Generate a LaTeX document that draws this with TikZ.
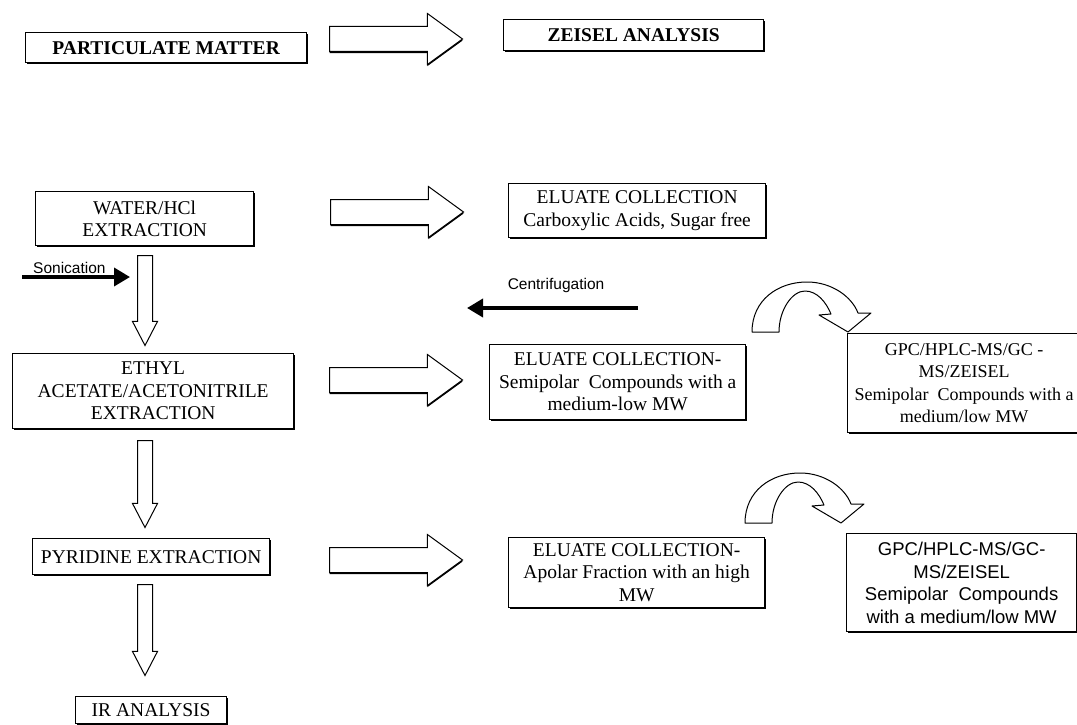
\documentclass[tikz,border=0pt]{standalone}
\usepackage{fontspec}
\setmainfont{Liberation Serif}
\newfontfamily\arialfont{Liberation Sans}
\usetikzlibrary{shapes.arrows,shadows,arrows.meta}

\begin{document}
\begin{tikzpicture}[x=1pt,y=-1pt,
		box/.style={draw,line width=1.3pt,fill=white,inner sep=2pt,anchor=north west,align=center,
			font=\fontsize{19.5}{22.5}\selectfont,
			drop shadow={shadow xshift=1.2pt,shadow yshift=-1.6pt,fill=black,opacity=1}},
		bbox/.style={box,font=\fontsize{19.5}{22.5}\selectfont\bfseries},
		sbox/.style={box,font=\arialfont\fontsize{18.5}{22.5}\selectfont},
		harr/.style={single arrow,draw,fill=white,line width=1pt,anchor=tail,
			minimum height=133pt,minimum width=50pt,inner xsep=0pt,inner ysep=12pt,
			single arrow head extend=13pt,single arrow tip angle=72,
			drop shadow={shadow xshift=0pt,shadow yshift=-1.6pt,fill=black,opacity=1}},
		varr/.style={single arrow,draw,fill=white,line width=1pt,anchor=tail,rotate=-90,
			minimum width=24pt,inner xsep=0pt,inner ysep=7pt,
			single arrow head extend=5pt,single arrow tip angle=55},
		push/.style={line width=3.5pt,-{Triangle[length=16pt,width=18pt]}},
		lbl/.style={font=\arialfont\fontsize{15.5}{18}\selectfont,inner sep=0pt},
		curved/.style={draw,fill=white,line width=1pt,line join=round}]
	\fill[white] (0,0) rectangle (1077,725);
	\useasboundingbox (0,0) rectangle (1077,725);
	\clip (0,0) rectangle (1077,725);
	\node[bbox,minimum width=281pt,minimum height=30pt] (pm) at (25,32) {PARTICULATE MATTER};
	\node[bbox,minimum width=260pt,minimum height=31pt] (zeisel) at (503,19) {ZEISEL ANALYSIS};
	\node[box,minimum width=218pt,minimum height=54pt] (water) at (35,191) {WATER/HCl\\EXTRACTION};
	\node[box,minimum width=257pt,minimum height=54pt] (elu1) at (508,183) {ELUATE COLLECTION\\Carboxylic Acids, Sugar free};
	\node[box,minimum width=281pt,minimum height=75pt] (ethyl) at (12,353) {ETHYL\\ACETATE/ACETONITRILE\\EXTRACTION};
	\node[box,minimum width=256pt,minimum height=75pt] (elu2) at (489,344) {ELUATE COLLECTION-\\Semipolar\ \ Compounds with a\\medium-low MW};
	\node[box,font=\fontsize{18}{22.5}\selectfont,minimum width=233pt,minimum height=99pt] (gpc1) at (847,333) {GPC/HPLC-MS/GC -\\MS/ZEISEL\\Semipolar\ \ Compounds with a\\medium/low MW};
	\node[box,minimum width=237pt,minimum height=36pt] (pyr) at (32,538) {PYRIDINE EXTRACTION};
	\node[box,minimum width=256pt,minimum height=70pt] (elu3) at (508,537) {ELUATE COLLECTION-\\Apolar Fraction with an high\\MW};
	\node[sbox,minimum width=230pt,minimum height=98pt] (gpc2) at (846,533) {GPC/HPLC-MS/GC-\\MS/ZEISEL\\Semipolar\ \ Compounds\\with a medium/low MW};
	\node[box,minimum width=151pt,minimum height=27pt] (ir) at (75,696) {IR ANALYSIS};

	\node[harr] (a1) at (329,39) {};
	\node[harr] (a2) at (330,212) {};
	\node[harr] (a3) at (329,380) {};
	\node[harr] (a4) at (329,560) {};
	\node[varr,minimum height=90pt] (d1) at (145,255) {};
	\node[varr,minimum height=87pt] (d2) at (145,440) {};
	\node[varr,minimum height=91pt] (d3) at (145,584) {};

	\coordinate (son0) at (22,277);
	\coordinate (son1) at (130,277);
	\draw[push] (son0) -- (son1);
	\node[lbl,anchor=base west] (son) at (33,273) {Sonication};
	\coordinate (cen0) at (638,308);
	\coordinate (cen1) at (467,308);
	\draw[push] (cen0) -- (cen1);
	\node[lbl] (cen) at (556,285) {Centrifugation};

	\draw[curved] (752,332) .. controls (752,300) and (778,282) .. (807,282) .. controls (832,282) and (852,297) .. (858,313) -- (871,313) -- (848,332) -- (819,315) -- (831,314) .. controls (826,302) and (817,291) .. (805,291) .. controls (792,291) and (779,310) .. (779,332) -- cycle;
	\begin{scope}[shift={(-7,191)}]
		\draw[curved] (752,332) .. controls (752,300) and (778,282) .. (807,282) .. controls (832,282) and (852,297) .. (858,313) -- (871,313) -- (848,332) -- (819,315) -- (831,314) .. controls (826,302) and (817,291) .. (805,291) .. controls (792,291) and (779,310) .. (779,332) -- cycle;
	\end{scope}
\end{tikzpicture}
\end{document}
